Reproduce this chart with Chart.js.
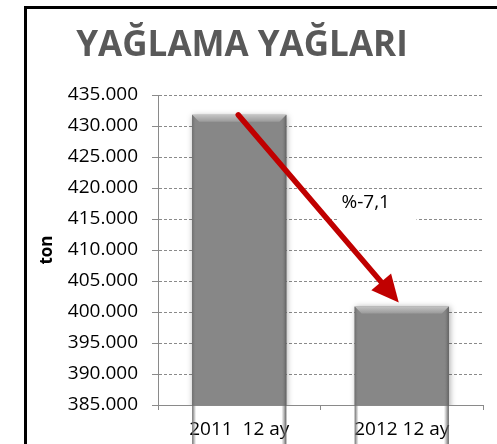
<!DOCTYPE html>
<html>
<head>
<meta charset="utf-8">
<script src="https://cdn.jsdelivr.net/npm/chart.js@4/dist/chart.umd.min.js"></script>
<style>
  html, body { margin: 0; padding: 0; background: #fff; }
  #wrap { position: relative; width: 497px; height: 444px; overflow: hidden; }
  #frame { position: absolute; left: 24px; top: 6px; width: 600px; height: 600px; border: 3px solid #000; box-sizing: border-box; }
  #c { position: absolute; left: 0; top: 0; }
</style>
</head>
<body>
<div id="wrap">
  <div id="frame"></div>
  <canvas id="c" width="497" height="444"></canvas>
</div>
<script>
const chartTitle = "YAĞLAMA YAĞLARI";
const categories = ["2011  12 ay", "2012 12 ay"];
const tonnage = [431800, 400900];
const yAxisTitle = "ton";
const yMin = 385000;
const yMax = 435000;
const yStep = 5000;
const changeLabel = "%-7,1";

function fmtTR(v) {
  const s = Math.round(v).toString();
  return s.replace(/\B(?=(\d{3})+(?!\d))/g, ".");
}

const FONT = "'Open Sans', 'Noto Sans', sans-serif";

const bevelPlugin = {
  id: 'bevel',
  beforeDatasetsDraw(chart) {
    const ctx = chart.ctx;
    ctx.save();
    ctx.shadowColor = 'rgba(0,0,0,0.35)';
    ctx.shadowBlur = 6;
    ctx.shadowOffsetX = 1;
    ctx.shadowOffsetY = 1;
  },
  afterDatasetsDraw(chart) {
    const ctx = chart.ctx;
    ctx.restore();
    const meta = chart.getDatasetMeta(0);
    meta.data.forEach(el => {
      const p = el.getProps(['x', 'y', 'base', 'width'], true);
      const l = p.x - p.width / 2, r = p.x + p.width / 2, t = p.y, b = p.base;
      const bv = 7;
      ctx.save();
      let g = ctx.createLinearGradient(0, t, 0, t + bv);
      g.addColorStop(0, '#c4c4c4');
      g.addColorStop(1, '#9a9a9a');
      ctx.fillStyle = g;
      ctx.beginPath();
      ctx.moveTo(l, t); ctx.lineTo(r, t); ctx.lineTo(r - bv, t + bv); ctx.lineTo(l + bv, t + bv); ctx.closePath();
      ctx.fill();
      g = ctx.createLinearGradient(l, 0, l + 4, 0);
      g.addColorStop(0, '#6a6a6a');
      g.addColorStop(1, 'rgba(135,135,135,0)');
      ctx.fillStyle = g;
      ctx.beginPath();
      ctx.moveTo(l, t); ctx.lineTo(l + 4, t + 4); ctx.lineTo(l + 4, b); ctx.lineTo(l, b); ctx.closePath();
      ctx.fill();
      g = ctx.createLinearGradient(r, 0, r - 5, 0);
      g.addColorStop(0, '#5e5e5e');
      g.addColorStop(1, 'rgba(135,135,135,0)');
      ctx.fillStyle = g;
      ctx.beginPath();
      ctx.moveTo(r, t); ctx.lineTo(r - 5, t + 5); ctx.lineTo(r - 5, b); ctx.lineTo(r, b); ctx.closePath();
      ctx.fill();
      ctx.restore();
    });
  }
};

const arrowPlugin = {
  id: 'arrow',
  afterDatasetsDraw(chart) {
    const ctx = chart.ctx;
    const meta = chart.getDatasetMeta(0);
    const a = meta.data[0].getProps(['x', 'y'], true);
    const c = meta.data[1].getProps(['x', 'y'], true);
    const sx = a.x - 1, sy = a.y;
    const ex = c.x - 3, ey = c.y - 4;
    const ang = Math.atan2(ey - sy, ex - sx);
    const headLen = 27, headHalf = 13;
    const bx = ex - headLen * Math.cos(ang), by = ey - headLen * Math.sin(ang);
    ctx.save();
    ctx.strokeStyle = '#C00000';
    ctx.fillStyle = '#C00000';
    ctx.lineWidth = 5.5;
    ctx.lineCap = 'round';
    ctx.beginPath();
    ctx.moveTo(sx, sy);
    ctx.lineTo(bx + 2 * Math.cos(ang), by + 2 * Math.sin(ang));
    ctx.stroke();
    ctx.beginPath();
    ctx.moveTo(ex, ey);
    ctx.lineTo(bx + headHalf * Math.sin(ang), by - headHalf * Math.cos(ang));
    ctx.lineTo(bx - headHalf * Math.sin(ang), by + headHalf * Math.cos(ang));
    ctx.closePath();
    ctx.fill();

    const mx = (sx + ex) / 2, my = (sy + ey) / 2;
    ctx.font = "19px " + FONT;
    const tx = mx + 23, ty = my - 6;
    ctx.fillStyle = '#fff';
    ctx.fillRect(tx - 3, ty - 13, 78, 31);
    ctx.fillStyle = '#000';
    ctx.textBaseline = 'middle';
    ctx.textAlign = 'left';
    ctx.fillText(changeLabel, tx, ty);
    ctx.restore();
  }
};

new Chart(document.getElementById('c'), {
  type: 'bar',
  data: {
    labels: categories,
    datasets: [{
      data: tonnage,
      backgroundColor: '#878787',
      borderWidth: 0,
      barPercentage: 0.58,
      categoryPercentage: 1.0
    }]
  },
  options: {
    responsive: false,
    animation: false,
    devicePixelRatio: 1,
    layout: { padding: { left: 1, right: 14, top: 0, bottom: 0 } },
    plugins: {
      legend: { display: false },
      tooltip: { enabled: false },
      title: {
        display: true,
        text: chartTitle,
        color: '#595959',
        font: { family: FONT, size: 35, weight: 'bold' },
        padding: { top: 25, bottom: 28 }
      }
    },
    scales: {
      x: {
        grid: { display: true, drawOnChartArea: false, drawTicks: true, tickLength: 5, tickColor: '#8a8a8a', offset: true },
        border: { display: true, color: '#8a8a8a', width: 1 },
        ticks: { color: '#000', font: { family: FONT, size: 19 }, padding: 8, maxRotation: 0 },
        afterFit(s) { s.height = 39; }
      },
      y: {
        min: yMin,
        max: yMax,
        ticks: {
          stepSize: yStep,
          color: '#000',
          font: { family: FONT, size: 19 },
          padding: 14,
          callback: v => fmtTR(v)
        },
        grid: { color: '#8a8a8a', lineWidth: 1, tickLength: 6, tickColor: '#8a8a8a' },
        border: { display: true, color: '#8a8a8a', width: 1, dash: [3, 2] },
        title: {
          display: true,
          text: yAxisTitle,
          color: '#000',
          font: { family: FONT, size: 17, weight: 'bold' },
          padding: { top: 36, bottom: 0 }
        },
        afterFit(s) { s.width = 157; }
      }
    }
  },
  plugins: [bevelPlugin, arrowPlugin]
});
</script>
</body>
</html>
